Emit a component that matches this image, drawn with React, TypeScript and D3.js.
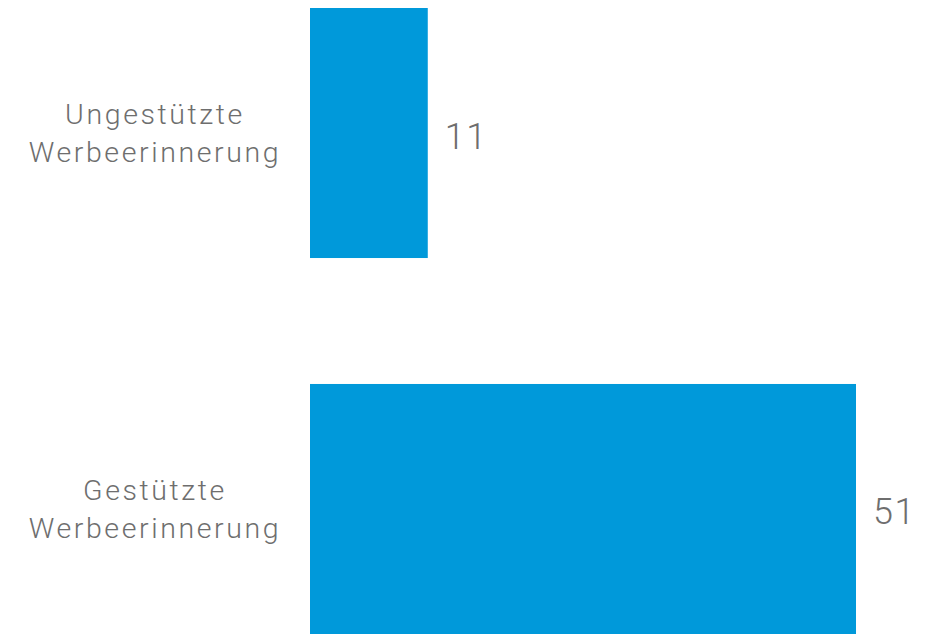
import React from "react";
import * as d3 from "d3";

const categories = [["Ungestützte", "Werbeerinnerung"], ["Gestützte", "Werbeerinnerung"]];
const values = [11, 51];

const W = 927, H = 634;

export default function App() {
  const x = d3.scaleLinear().domain([0, 51]).range([310, 856]);
  const y = d3.scaleBand<number>().domain(values.map((_, i) => i)).range([8, 634]).paddingInner(0.335).paddingOuter(0);
  return (
    <svg width={W} height={H} style={{ position: "absolute", left: 0, top: 0 }}>
      {values.map((v, i) => {
        const y0 = y(i)!;
        const bh = y.bandwidth();
        const cy = y0 + bh / 2;
        return (
          <g key={i}>
            <rect x={x(0)} y={y0} width={x(v) - x(0)} height={bh} fill="#0099da" />
            <text x={x(v) + 17} y={cy + 15.5} fontFamily="Roboto" fontWeight={300} fontSize={36} letterSpacing={1.5} fill="#6e6e6e">{v}</text>
            <text textAnchor="middle" fontFamily="Roboto" fontWeight={300} fontSize={28.5} letterSpacing={2.6} fill="#6e6e6e">
              {categories[i].map((l, j) => (
                <tspan key={j} x={155} y={cy - 9 + j * 38}>{l}</tspan>
              ))}
            </text>
          </g>
        );
      })}
    </svg>
  );
}
